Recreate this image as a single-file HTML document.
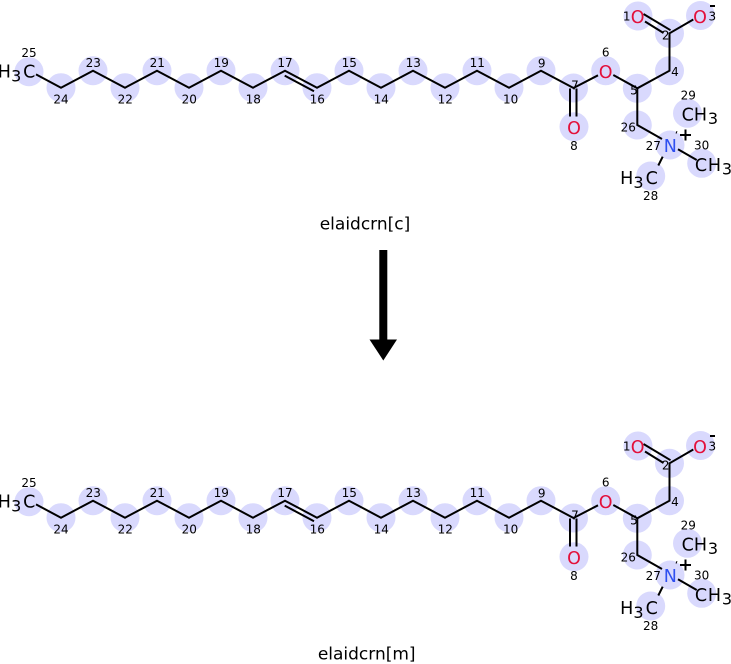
<!DOCTYPE html>
<html>
<head>
<meta charset="utf-8">
<style>
html,body{margin:0;padding:0;background:#fff;}
svg{display:block;}
text{font-family:"DejaVu Sans","Liberation Sans",sans-serif;}
.n{font-size:12px;fill:#000;text-anchor:middle;}
.e{font-size:17.5px;text-anchor:middle;}
.s{font-size:16px;text-anchor:middle;}
.O{fill:#e3103b;}
.N{fill:#2f4ff0;}
.K{fill:#000;}
.b{stroke:#000;stroke-width:2;fill:none;stroke-linecap:butt;stroke-linejoin:miter;}
.c{fill:#d9d9fd;}
</style>
</head>
<body>
<svg width="731" height="664" viewBox="0 0 731 664" xmlns="http://www.w3.org/2000/svg">
<rect width="731" height="664" fill="#fff"/>

<!-- TOP MOLECULE -->
<g>
<g class="c">
<circle cx="29" cy="71.7" r="14.5"/><circle cx="61" cy="87.7" r="14.5"/><circle cx="93" cy="70.7" r="14.5"/><circle cx="125" cy="87.7" r="14.5"/><circle cx="157" cy="70.7" r="14.5"/><circle cx="189" cy="87.7" r="14.5"/><circle cx="221" cy="70.7" r="14.5"/><circle cx="253" cy="87.7" r="14.5"/><circle cx="285" cy="70.7" r="14.5"/><circle cx="317" cy="87.7" r="14.5"/><circle cx="349" cy="70.7" r="14.5"/><circle cx="381" cy="87.7" r="14.5"/><circle cx="413" cy="70.7" r="14.5"/><circle cx="445" cy="87.7" r="14.5"/><circle cx="477" cy="70.7" r="14.5"/><circle cx="509" cy="87.7" r="14.5"/><circle cx="541" cy="70.7" r="14.5"/><circle cx="573.5" cy="88" r="14.5"/><circle cx="574" cy="126.7" r="14.5"/><circle cx="605.7" cy="70.7" r="14.5"/><circle cx="637.3" cy="88.3" r="14.5"/><circle cx="669.5" cy="70.7" r="14.5"/><circle cx="669.5" cy="33.3" r="14.5"/><circle cx="638" cy="16" r="14.5"/><circle cx="700.5" cy="15.5" r="14.5"/><circle cx="637.3" cy="125" r="14.5"/><circle cx="670" cy="145" r="14.5"/><circle cx="687.5" cy="113.3" r="14.5"/><circle cx="701.7" cy="163.3" r="14.5"/><circle cx="650.7" cy="176" r="14.5"/>
</g>
<polyline class="b" points="36,74.4 61,87.7 93,70.7 125,87.7 157,70.7 189,87.7 221,70.7 253,87.7 285,70.7 317,87.7 349,70.7 381,87.7 413,70.7 445,87.7 477,70.7 509,87.7 541,70.7 573.5,88 598,75.3"/>
<line class="b" x1="284.7" y1="75.6" x2="314" y2="91.2"/>
<line class="b" x1="570" y1="88.5" x2="570" y2="116.5"/>
<line class="b" x1="576.5" y1="88.5" x2="576.5" y2="116.5"/>
<polyline class="b" points="613.3,75 637.3,88.3 669.5,70.7 669.5,33.3 693.3,19.5"/>
<line class="b" x1="643.5" y1="14" x2="670.5" y2="30.2"/>
<line class="b" x1="645" y1="21.5" x2="663.5" y2="33"/>
<polyline class="b" points="637.3,88.3 637.3,125 662,139"/>
<line class="b" x1="678" y1="149.3" x2="696.7" y2="160"/>
<line class="b" x1="662.7" y1="156.7" x2="658.3" y2="165.5"/>
<line class="b" x1="676" y1="133.5" x2="677" y2="131.2" style="stroke-width:1"/>

<text class="e K" x="4.3" y="77.3">H</text><text class="s K" x="16.2" y="81.7">3</text><text class="e K" x="29.2" y="77.3">C</text>
<text class="e O" x="605.7" y="77.8">O</text>
<text class="e O" x="574" y="134">O</text>
<text class="e O" x="637.7" y="23.2">O</text>
<text class="e O" x="700" y="23.2">O</text>
<text class="e N" x="670.3" y="152.2">N</text>
<text class="e K" x="687.8" y="120.5">C</text><text class="e K" x="700.5" y="120.5">H</text><text class="s K" x="713" y="124">3</text>
<text class="e K" x="701" y="171.2">C</text><text class="e K" x="714.5" y="171.2">H</text><text class="s K" x="727" y="174.5">3</text>
<text class="e K" x="626.7" y="183.8">H</text><text class="s K" x="638.5" y="187.8">3</text><text class="e K" x="651.7" y="183.8">C</text>
<rect x="710" y="5" width="5" height="2" fill="#000"/>
<line class="b" x1="680" y1="135" x2="691" y2="135"/><line class="b" x1="685.5" y1="129.5" x2="685.5" y2="140.5"/>

<text class="n" x="29" y="57">25</text><text class="n" x="61" y="103.6">24</text><text class="n" x="93.3" y="67">23</text><text class="n" x="125.3" y="103.6">22</text><text class="n" x="157.3" y="67">21</text><text class="n" x="189.3" y="103.6">20</text><text class="n" x="221.3" y="67">19</text><text class="n" x="253.3" y="103.6">18</text><text class="n" x="285" y="67">17</text><text class="n" x="317.3" y="103.6">16</text><text class="n" x="349.3" y="67">15</text><text class="n" x="381.3" y="103.6">14</text><text class="n" x="413.3" y="67">13</text><text class="n" x="445.3" y="103.6">12</text><text class="n" x="477.3" y="67">11</text><text class="n" x="510.7" y="103.3">10</text><text class="n" x="541.7" y="67.6">9</text><text class="n" x="575" y="89.3">7</text><text class="n" x="574" y="150">8</text><text class="n" x="605.7" y="56.6">6</text><text class="n" x="634" y="94.3">5</text><text class="n" x="675" y="76">4</text><text class="n" x="665.7" y="39.3">2</text><text class="n" x="626.7" y="20.3">1</text><text class="n" x="712.3" y="20.3">3</text><text class="n" x="628.3" y="131.3">26</text><text class="n" x="653.3" y="149.8">27</text><text class="n" x="650.7" y="200">28</text><text class="n" x="688.3" y="99.3">29</text><text class="n" x="701.7" y="149.3">30</text>
</g>

<text x="365" y="229.5" style="font-size:17px;text-anchor:middle;fill:#000">elaidcrn[c]</text>

<!-- ARROW -->
<rect x="379.3" y="250" width="8" height="90" fill="#000"/>
<polygon points="369.5,339.5 397,339.5 383.3,360.5" fill="#000"/>

<!-- BOTTOM MOLECULE -->
<g transform="translate(0,430)">
<g class="c">
<circle cx="29" cy="71.7" r="14.5"/><circle cx="61" cy="87.7" r="14.5"/><circle cx="93" cy="70.7" r="14.5"/><circle cx="125" cy="87.7" r="14.5"/><circle cx="157" cy="70.7" r="14.5"/><circle cx="189" cy="87.7" r="14.5"/><circle cx="221" cy="70.7" r="14.5"/><circle cx="253" cy="87.7" r="14.5"/><circle cx="285" cy="70.7" r="14.5"/><circle cx="317" cy="87.7" r="14.5"/><circle cx="349" cy="70.7" r="14.5"/><circle cx="381" cy="87.7" r="14.5"/><circle cx="413" cy="70.7" r="14.5"/><circle cx="445" cy="87.7" r="14.5"/><circle cx="477" cy="70.7" r="14.5"/><circle cx="509" cy="87.7" r="14.5"/><circle cx="541" cy="70.7" r="14.5"/><circle cx="573.5" cy="88" r="14.5"/><circle cx="574" cy="126.7" r="14.5"/><circle cx="605.7" cy="70.7" r="14.5"/><circle cx="637.3" cy="88.3" r="14.5"/><circle cx="669.5" cy="70.7" r="14.5"/><circle cx="669.5" cy="33.3" r="14.5"/><circle cx="638" cy="16" r="14.5"/><circle cx="700.5" cy="15.5" r="14.5"/><circle cx="637.3" cy="125" r="14.5"/><circle cx="670" cy="145" r="14.5"/><circle cx="687.5" cy="113.3" r="14.5"/><circle cx="701.7" cy="163.3" r="14.5"/><circle cx="650.7" cy="176" r="14.5"/>
</g>
<polyline class="b" points="36,74.4 61,87.7 93,70.7 125,87.7 157,70.7 189,87.7 221,70.7 253,87.7 285,70.7 317,87.7 349,70.7 381,87.7 413,70.7 445,87.7 477,70.7 509,87.7 541,70.7 573.5,88 598,75.3"/>
<line class="b" x1="284.7" y1="75.6" x2="314" y2="91.2"/>
<line class="b" x1="570" y1="88.5" x2="570" y2="116.5"/>
<line class="b" x1="576.5" y1="88.5" x2="576.5" y2="116.5"/>
<polyline class="b" points="613.3,75 637.3,88.3 669.5,70.7 669.5,33.3 693.3,19.5"/>
<line class="b" x1="643.5" y1="14" x2="670.5" y2="30.2"/>
<line class="b" x1="645" y1="21.5" x2="663.5" y2="33"/>
<polyline class="b" points="637.3,88.3 637.3,125 662,139"/>
<line class="b" x1="678" y1="149.3" x2="696.7" y2="160"/>
<line class="b" x1="662.7" y1="156.7" x2="658.3" y2="165.5"/>
<line class="b" x1="676" y1="133.5" x2="677" y2="131.2" style="stroke-width:1"/>

<text class="e K" x="4.3" y="77.3">H</text><text class="s K" x="16.2" y="81.7">3</text><text class="e K" x="29.2" y="77.3">C</text>
<text class="e O" x="605.7" y="77.8">O</text>
<text class="e O" x="574" y="134">O</text>
<text class="e O" x="637.7" y="23.2">O</text>
<text class="e O" x="700" y="23.2">O</text>
<text class="e N" x="670.3" y="152.2">N</text>
<text class="e K" x="687.8" y="120.5">C</text><text class="e K" x="700.5" y="120.5">H</text><text class="s K" x="713" y="124">3</text>
<text class="e K" x="701" y="171.2">C</text><text class="e K" x="714.5" y="171.2">H</text><text class="s K" x="727" y="174.5">3</text>
<text class="e K" x="626.7" y="183.8">H</text><text class="s K" x="638.5" y="187.8">3</text><text class="e K" x="651.7" y="183.8">C</text>
<rect x="710" y="5" width="5" height="2" fill="#000"/>
<line class="b" x1="680" y1="135" x2="691" y2="135"/><line class="b" x1="685.5" y1="129.5" x2="685.5" y2="140.5"/>

<text class="n" x="29" y="57">25</text><text class="n" x="61" y="103.6">24</text><text class="n" x="93.3" y="67">23</text><text class="n" x="125.3" y="103.6">22</text><text class="n" x="157.3" y="67">21</text><text class="n" x="189.3" y="103.6">20</text><text class="n" x="221.3" y="67">19</text><text class="n" x="253.3" y="103.6">18</text><text class="n" x="285" y="67">17</text><text class="n" x="317.3" y="103.6">16</text><text class="n" x="349.3" y="67">15</text><text class="n" x="381.3" y="103.6">14</text><text class="n" x="413.3" y="67">13</text><text class="n" x="445.3" y="103.6">12</text><text class="n" x="477.3" y="67">11</text><text class="n" x="510.7" y="103.3">10</text><text class="n" x="541.7" y="67.6">9</text><text class="n" x="575" y="89.3">7</text><text class="n" x="574" y="150">8</text><text class="n" x="605.7" y="56.6">6</text><text class="n" x="634" y="94.3">5</text><text class="n" x="675" y="76">4</text><text class="n" x="665.7" y="39.3">2</text><text class="n" x="626.7" y="20.3">1</text><text class="n" x="712.3" y="20.3">3</text><text class="n" x="628.3" y="131.3">26</text><text class="n" x="653.3" y="149.8">27</text><text class="n" x="650.7" y="200">28</text><text class="n" x="688.3" y="99.3">29</text><text class="n" x="701.7" y="149.3">30</text>
</g>

<text x="366.7" y="659.5" style="font-size:17px;text-anchor:middle;fill:#000">elaidcrn[m]</text>
</svg>
</body>
</html>
